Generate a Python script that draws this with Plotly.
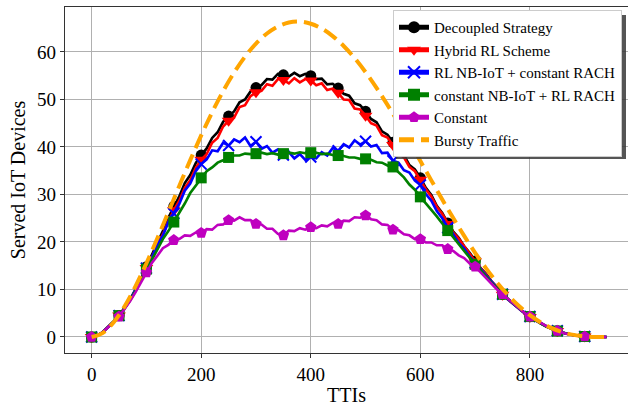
import plotly.graph_objects as go

# TTI grid for the per-strategy series (every 10 TTIs)
tti = list(range(0, 950, 10))
# TTI grid for the bursty traffic arrival curve (every 20 TTIs)
tti_bursty = list(range(0, 950, 20))

decoupled = [0, 0.3, 1.0, 2.0, 3.2, 4.5, 6.0, 7.8, 9.9, 12.2, 14.8, 17.2, 19.9, 22.3, 25.1, 27.5, 29.6, 32.4, 34.1, 36.6,
             38.3, 39.7, 41.9, 43.1, 45.3, 46.5, 47.5, 49.4, 50.0, 51.7, 52.5, 53.0, 54.3, 54.2, 55.4, 55.2, 54.8, 55.6, 54.9, 55.4,
             55.0, 54.3, 54.4, 53.2, 53.3, 52.4, 51.2, 50.8, 49.2, 48.8, 47.5, 45.9, 45.2, 43.3, 42.6, 41.0, 39.2, 38.3, 36.2, 35.3,
             33.5, 31.4, 29.9, 27.6, 26.1, 24.0, 22.2, 20.9, 19.1, 17.7, 16.0, 14.5, 13.3, 11.7, 10.5, 9.0, 8.0, 7.0, 6.0, 5.1,
             4.3, 3.6, 2.9, 2.3, 1.8, 1.3, 0.95, 0.65, 0.4, 0.2, 0.1, 0.05, 0.02, 0.0, 0.0]

hybrid = [0, 0.3, 1.0, 2.0, 3.2, 4.5, 6.0, 7.7, 9.7, 12.0, 14.5, 16.8, 19.4, 21.6, 24.3, 26.7, 28.7, 31.4, 33.0, 35.6,
          37.3, 38.5, 40.9, 41.9, 44.3, 45.5, 46.2, 48.4, 48.8, 50.7, 51.5, 51.8, 53.2, 52.9, 54.3, 54.1, 53.4, 54.5, 53.6, 54.3,
          54.0, 53.0, 53.4, 52.0, 52.3, 51.4, 50.0, 49.9, 48.1, 47.9, 46.6, 45.0, 44.5, 42.5, 42.0, 40.4, 38.7, 37.8, 35.8, 34.9,
          33.1, 31.1, 29.6, 27.4, 25.9, 23.8, 22.0, 20.7, 19.0, 17.5, 15.9, 14.4, 13.2, 11.6, 10.4, 8.9, 7.9, 6.9, 5.9, 5.0,
          4.2, 3.5, 2.8, 2.2, 1.7, 1.25, 0.9, 0.6, 0.35, 0.2, 0.1, 0.05, 0.02, 0.0, 0.0]

rl_nbiot = [0, 0.3, 1.0, 2.0, 3.2, 4.5, 6.0, 7.8, 9.8, 12.0, 14.5, 16.7, 19.5, 21.3, 24.2, 26.0, 28.0, 30.8, 32.3, 34.9,
            36.4, 37.4, 39.3, 39.1, 40.9, 40.3, 41.6, 41.0, 42.0, 40.2, 41.1, 39.6, 40.2, 38.8, 39.5, 38.3, 38.9, 37.6, 38.5, 37.3,
            37.9, 37.6, 38.9, 38.2, 39.8, 39.2, 40.6, 39.9, 41.4, 40.5, 41.2, 40.1, 40.4, 38.7, 38.8, 37.1, 36.7, 35.1, 34.6, 32.9,
            32.0, 30.1, 28.7, 26.5, 25.0, 23.0, 21.6, 19.8, 18.6, 16.9, 15.6, 14.2, 13.0, 11.5, 10.3, 9.0, 7.9, 6.9, 5.9, 5.0,
            4.3, 3.5, 2.8, 2.2, 1.7, 1.3, 0.9, 0.6, 0.35, 0.2, 0.1, 0.05, 0.02, 0.0, 0.0]

rl_rach = [0, 0.3, 1.0, 2.0, 3.2, 4.5, 6.0, 7.7, 9.7, 11.9, 14.3, 16.5, 18.4, 20.6, 22.3, 24.2, 26.3, 28.1, 30.3, 31.9,
           33.5, 34.9, 35.7, 36.7, 37.2, 37.8, 38.2, 38.2, 38.6, 38.5, 38.6, 38.8, 38.5, 38.7, 38.4, 38.6, 38.8, 38.6, 38.9, 38.7,
           38.8, 38.8, 38.5, 38.6, 38.3, 38.2, 38.1, 37.8, 37.8, 37.5, 37.5, 37.3, 36.8, 36.7, 36.1, 35.8, 34.6, 33.6, 32.1, 31.0,
           29.5, 28.2, 26.8, 25.4, 23.9, 22.4, 21.0, 19.6, 18.1, 16.7, 15.3, 14.0, 12.7, 11.4, 10.2, 9.0, 8.0, 7.0, 6.0, 5.1,
           4.3, 3.5, 2.8, 2.2, 1.7, 1.25, 0.9, 0.6, 0.35, 0.2, 0.1, 0.05, 0.02, 0.0, 0.0]

constant = [0, 0.3, 1.0, 2.0, 3.1, 4.3, 5.8, 7.5, 9.4, 11.5, 13.6, 15.6, 17.1, 18.7, 19.4, 20.4, 20.6, 21.4, 21.3, 22.0,
            21.9, 22.7, 22.6, 23.6, 23.7, 24.6, 24.5, 25.2, 24.6, 24.6, 23.8, 23.7, 22.8, 22.8, 21.7, 21.4, 22.4, 22.3, 22.9, 22.6,
            23.1, 22.9, 23.5, 23.3, 24.0, 23.8, 24.5, 24.4, 25.2, 25.1, 25.6, 24.8, 24.6, 23.7, 23.6, 22.6, 22.5, 21.6, 21.4, 20.6,
            20.6, 19.9, 19.9, 19.3, 19.3, 18.5, 18.1, 17.2, 16.6, 15.5, 14.8, 13.6, 12.4, 11.1, 10.0, 9.0, 8.0, 7.0, 6.0, 5.1,
            4.3, 3.6, 2.9, 2.3, 1.8, 1.3, 0.9, 0.6, 0.35, 0.2, 0.1, 0.05, 0.02, 0.0, 0.0]

bursty = [0, 0.82, 3.05, 6.42, 10.66, 15.52, 20.78, 26.27, 31.80, 37.24, 42.43, 47.31, 51.73, 55.66, 59.02, 61.77,
          63.89, 65.37, 66.20, 66.39, 65.95, 64.93, 63.35, 61.26, 58.71, 55.75, 52.45, 48.86, 45.05, 41.09, 37.04, 32.97,
          28.95, 25.03, 21.28, 17.73, 14.45, 11.47, 8.82, 6.52, 4.60, 3.04, 1.85, 0.99, 0.44, 0.14, 0.02, 0]

x_ticks = [0, 200, 400, 600, 800]
y_ticks = [0, 10, 20, 30, 40, 50, 60]

FONT = "Liberation Serif"

series = [
    ("Decoupled Strategy", decoupled, "#000000", "circle", 11),
    ("Hybrid RL Scheme", hybrid, "#ff0000", "triangle-down", 12),
    ("RL NB-IoT + constant RACH", rl_nbiot, "#0000ff", "x-thin", 11),
    ("constant NB-IoT + RL RACH", rl_rach, "#008000", "square", 11),
    ("Constant", constant, "#bf00bf", "pentagon", 12),
]

fig = go.Figure()
for name, vals, color, sym, msize in series:
    sizes = [msize if (t % 50 == 0) else 0 for t in tti]
    fig.add_trace(go.Scatter(
        x=tti, y=vals, name=name, mode="lines+markers",
        line=dict(color=color, width=2.6),
        marker=dict(symbol=sym, size=sizes, color=color, opacity=1,
                    line=dict(color=color, width=2 if sym == "x-thin" else 0)),
    ))

fig.add_trace(go.Scatter(
    x=tti_bursty, y=bursty, name="Bursty Traffic", mode="lines",
    line=dict(color="#ffa500", width=4, dash="15px,7px", shape="spline"),
))

# legend drop shadow (pixel box converted to paper coordinates)
L, T, W, H = 65, 7, 563, 346
def px_x(p):
    return (p - L) / W
def px_y(p):
    return (T + H - p) / H
fig.add_shape(type="rect", xref="paper", yref="paper", layer="above",
              x0=px_x(396), x1=px_x(626), y0=px_y(159), y1=px_y(15),
              fillcolor="rgba(55,55,55,0.85)", line=dict(width=0))

fig.update_layout(
    width=628, height=409,
    margin=dict(l=L, r=0, t=T, b=409 - T - H),
    paper_bgcolor="white", plot_bgcolor="white",
    font=dict(family=FONT, size=19, color="#000000"),
    showlegend=True,
    legend=dict(
        x=px_x(622), y=px_y(10), xanchor="right", yanchor="top",
        bgcolor="white", bordercolor="#cccccc", borderwidth=1,
        font=dict(family=FONT, size=15, color="#000000"),
        itemsizing="constant", tracegroupgap=0,
    ),
    xaxis=dict(
        range=[-48.6, 979], tickvals=x_ticks, ticktext=[str(v) for v in x_ticks],
        tickfont=dict(family=FONT, size=19, color="#000000"),
        showgrid=True, gridcolor="#b0b0b0", gridwidth=1,
        showline=True, linecolor="#333333", linewidth=1.2, mirror=True,
        ticks="outside", ticklen=4, tickcolor="#333333",
        zeroline=False,
        title=dict(text="TTIs", font=dict(family=FONT, size=20, color="#000000"), standoff=4),
    ),
    yaxis=dict(
        range=[-3.37, 69.47], tickvals=y_ticks, ticktext=[str(v) for v in y_ticks],
        tickfont=dict(family=FONT, size=19, color="#000000"),
        showgrid=True, gridcolor="#b0b0b0", gridwidth=1,
        showline=True, linecolor="#333333", linewidth=1.2, mirror=False,
        ticks="outside", ticklen=4, tickcolor="#333333",
        zeroline=False,
        title=dict(text="Served IoT Devices", font=dict(family=FONT, size=20, color="#000000"), standoff=6),
    ),
)

fig.write_html("out.html")
